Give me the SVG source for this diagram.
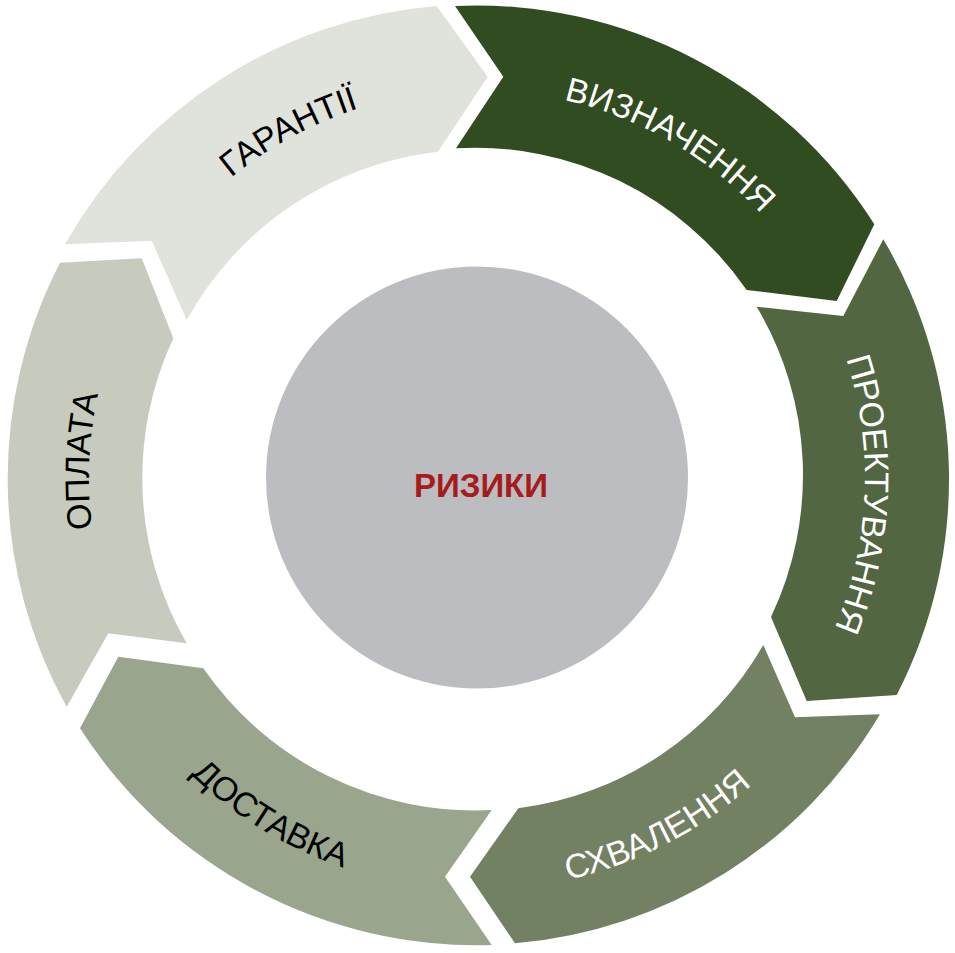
<svg xmlns="http://www.w3.org/2000/svg" width="955" height="953" viewBox="0 0 955 953">
<style>
.lbl{font-family:"Liberation Sans",Arial,sans-serif;font-size:34px;}
.w{fill:#ffffff;}
.k{fill:#000000;}
</style>
<defs>
<path id="pG" d="M115.8,336.1 A388,388 0 0 1 554.4,97.8"/>
<path id="pV" d="M409.6,95.9 A388,388 0 0 1 841.6,345.3"/>
<path id="pP" d="M784.6,241.5 A388,388 0 0 1 763.2,739.8"/>
<path id="pO" d="M169.2,714.2 A388,388 0 0 1 190.9,215.9"/>
<path id="pS" d="M386.5,879.9 A412,412 0 0 0 857.1,637.0"/>
<path id="pD" d="M86.3,608.7 A412,412 0 0 0 537.9,885.5"/>
</defs>
<rect width="955" height="953" fill="#ffffff"/>
<g id="connectors"/>
<g id="vyznachennia">
<path d="M455,6 A471,471 0 0 1 874.3,224.3 L836.7,301 L746.7,290 A330,330 0 0 0 456,148.3 L503.3,76.7 Z" fill="#324c22"/>
<text class="lbl w"><textPath href="#pV" startOffset="50%" text-anchor="middle">ВИЗНАЧЕННЯ</textPath></text>
</g>
<g id="proektuvannia">
<path d="M883.3,239.3 A471,471 0 0 1 896.7,695 L806.7,701 L771,617 A330,330 0 0 0 756.7,306.7 L843.3,316 Z" fill="#526641"/>
<text class="lbl w"><textPath href="#pP" startOffset="50%" text-anchor="middle">ПРОЕКТУВАННЯ</textPath></text>
</g>
<g id="skhvalennia">
<path d="M880,714.3 A471,471 0 0 1 515,943.3 L470,876.7 L518.3,808.3 A330,330 0 0 0 763.3,645 L795,717.3 Z" fill="#738163"/>
<text class="lbl w"><textPath href="#pS" startOffset="50%" text-anchor="middle">СХВАЛЕННЯ</textPath></text>
</g>
<g id="dostavka">
<path d="M491.7,945 A471,471 0 0 1 80,728.3 L118.3,656.7 L203.3,668.3 A330,330 0 0 0 491.7,810 L445,876.7 Z" fill="#99a68d"/>
<text class="lbl k"><textPath href="#pD" startOffset="50%" text-anchor="middle">ДОСТАВКА</textPath></text>
</g>
<g id="oplata">
<path d="M66.7,706.7 A471,471 0 0 1 60,262.7 L141.7,258.3 L173.3,338.3 A330,330 0 0 0 186.7,643.3 L108.3,633.3 Z" fill="#c6cbbd"/>
<text class="lbl k"><textPath href="#pO" startOffset="50%" text-anchor="middle">ОПЛАТА</textPath></text>
</g>
<g id="garantii">
<path d="M65,244.3 A471,471 0 0 1 436.7,6 L487.7,76.7 L438,151.7 A330,330 0 0 0 186.7,320 L151.7,240.7 Z" fill="#e0e2dc"/>
<text class="lbl k"><textPath href="#pG" startOffset="50%" text-anchor="middle">ГАРАНТІЇ</textPath></text>
</g>
<g id="ryzyky">
<circle cx="477" cy="477.5" r="211" fill="#bcbdc1"/>
<text x="481" y="497" text-anchor="middle" style="font-family:'Liberation Sans',Arial,sans-serif;font-size:33px;font-weight:bold;fill:#a61c1c">РИЗИКИ</text>
</g>
</svg>
